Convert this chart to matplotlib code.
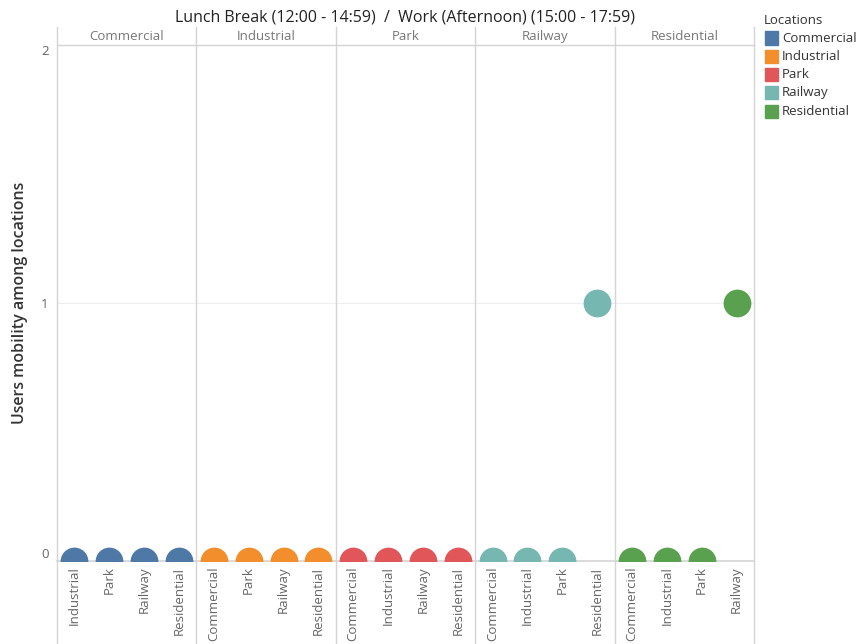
import matplotlib
matplotlib.use("Agg")
import matplotlib.pyplot as plt
from matplotlib.lines import Line2D

plt.rcParams['font.family'] = ['Open Sans', 'DejaVu Sans']

locations = ["Commercial", "Industrial", "Park", "Railway", "Residential"]
colors = ["#4e79a7", "#f28e2b", "#e15759", "#76b7b2", "#59a14f"]
# destination values per origin panel (destinations exclude the origin itself)
values = {
    "Commercial": [0, 0, 0, 0],
    "Industrial": [0, 0, 0, 0],
    "Park": [0, 0, 0, 0],
    "Railway": [0, 0, 0, 1],
    "Residential": [0, 0, 0, 1],
}
title = "Lunch Break (12:00 - 14:59)  /  Work (Afternoon) (15:00 - 17:59)"
ylabel = "Users mobility among locations"

W, H = 858, 644
fig = plt.figure(figsize=(W/100, H/100), dpi=100)
L, R, T, B = 57, 754, 45, 561
ax = fig.add_axes([L/W, 1-B/H, (R-L)/W, (B-T)/H])
ax.set_xlim(-0.5, 19.5)
ax.set_ylim(0, 2)

grey = "#d4d4d4"
xt, xl = [], []
for p, origin in enumerate(locations):
    dests = [d for d in locations if d != origin]
    for j, (d, v) in enumerate(zip(dests, values[origin])):
        x = p*4 + j
        xt.append(x); xl.append(d)
        ax.scatter([x], [v], s=400, color=colors[p], zorder=3, clip_on=True, linewidths=0)

ax.set_xticks(xt)
ax.set_xticklabels(xl, rotation=90, fontsize=9.5, color="#666666", va='top', ha='center')
ax.tick_params(axis='x', length=0, pad=4)
ax.set_yticks([0, 1, 2])
ax.set_yticklabels(["0", "1", "2"], fontsize=9.5, color="#666666")
ax.tick_params(axis='y', length=0, pad=6)
labs = ax.get_yticklabels()
labs[0].set_va('bottom'); labs[2].set_va('top')
ax.axhline(1, color="#eeeeee", lw=0.8, zorder=0)
for s in ['top', 'right', 'left']:
    ax.spines[s].set_visible(False)
ax.spines['bottom'].set_color(grey)
ax.spines['bottom'].set_linewidth(1.2)

fig.text(20/W, 1-303/H, ylabel, rotation=90, ha='center', va='center',
         fontsize=11.5, color="#333333", fontweight='semibold')

# panel separators spanning header to bottom of figure
for p in range(6):
    xf = (L + p*(R-L)/5)/W
    fig.add_artist(Line2D([xf, xf], [0, 1-27/H], color=grey, lw=1))
# header band
fig.add_artist(Line2D([L/W, R/W], [1-T/H, 1-T/H], color=grey, lw=1))
for p, name in enumerate(locations):
    xc = (L + (p+0.5)*(R-L)/5)/W
    fig.text(xc, 1-36.5/H, name, ha='center', va='center', fontsize=9.5, color="#777777")

fig.text(405/W, 1-18/H, title, ha='center', va='center', fontsize=11.5, color="#222222")

# legend
fig.text(764/W, 1-20/H, "Locations", ha='left', va='center', fontsize=9.5, color="#333333")
for i, (name, c) in enumerate(zip(locations, colors)):
    y = 38 + i*18.3
    fig.add_artist(plt.Rectangle((765/W, 1-(y+6.5)/H), 13/W, 13/H, color=c, transform=fig.transFigure))
    fig.text(782/W, 1-y/H, name, ha='left', va='center', fontsize=9.5, color="#333333")

fig.savefig("out.png", dpi=100)
